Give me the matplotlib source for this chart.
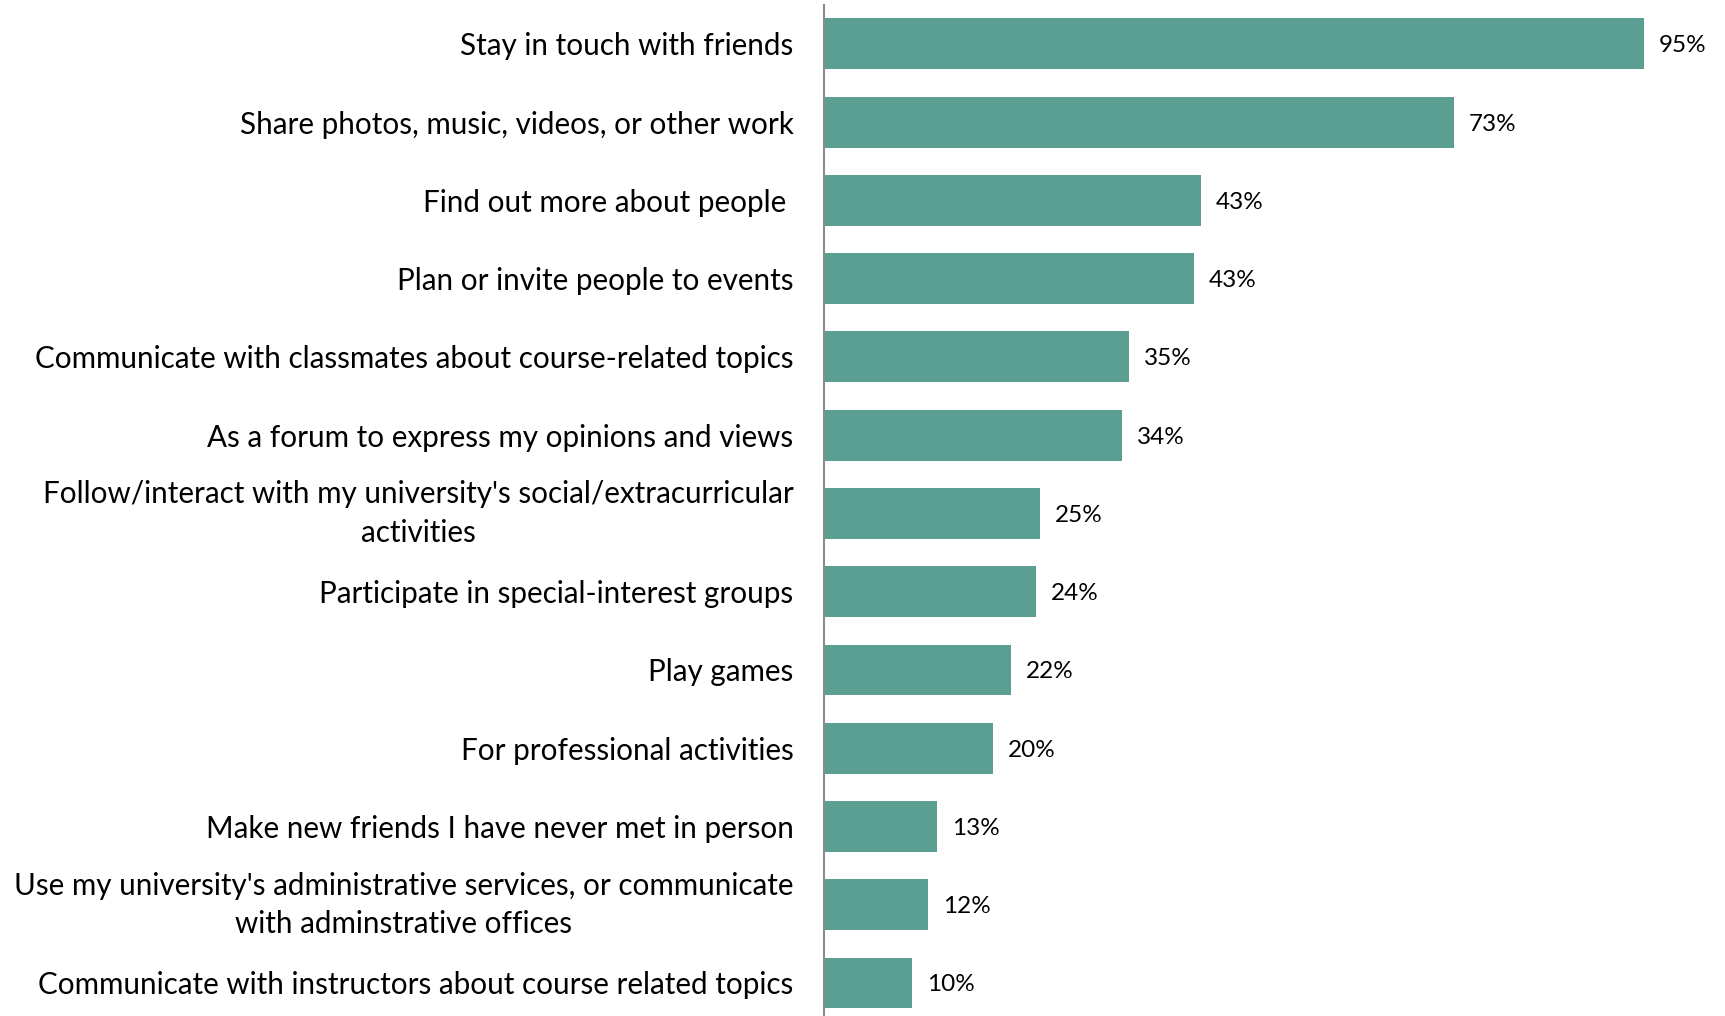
import matplotlib.pyplot as plt

categories = [
    "Stay in touch with friends",
    "Share photos, music, videos, or other work",
    "Find out more about people ",
    "Plan or invite people to events",
    "Communicate with classmates about course-related topics",
    "As a forum to express my opinions and views",
    "Follow/interact with my university's social/extracurricular\nactivities",
    "Participate in special-interest groups",
    "Play games",
    "For professional activities",
    "Make new friends I have never met in person",
    "Use my university's administrative services, or communicate\nwith adminstrative offices",
    "Communicate with instructors about course related topics",
]
values = [94.7, 72.7, 43.5, 42.7, 35.2, 34.4, 24.9, 24.5, 21.6, 19.5, 13.1, 12.0, 10.2]
value_labels = ["95%", "73%", "43%", "43%", "35%", "34%", "25%", "24%", "22%", "20%", "13%", "12%", "10%"]

plt.rcParams['font.family'] = ['Lato', 'DejaVu Sans']

fig = plt.figure(figsize=(17.25, 10.16), dpi=100)
ax = fig.add_axes([0.4777, -0.006, 0.502, 1.0013])

y = list(range(len(categories)))
ax.barh(y, values, height=0.65, color="#5b9f93")
ax.set_ylim(len(categories) - 0.5, -0.5)
ax.set_xlim(0, 100)

for yi, v, lab in zip(y, values, value_labels):
    ax.text(v + 1.7, yi, lab, va="center_baseline", ha="left", fontsize=17.5, color="black")

ax.set_yticks(y)
ax.set_yticklabels(categories, fontsize=21.3, multialignment="center", linespacing=1.45)
for t in ax.get_yticklabels():
    if "\n" in t.get_text():
        t.set_va("center")
ax.tick_params(axis="y", length=0, pad=22)
ax.set_xticks([])
for s in ["top", "right", "bottom"]:
    ax.spines[s].set_visible(False)
ax.spines["left"].set_color("#8c8c8c")
ax.spines["left"].set_linewidth(1.5)

fig.savefig("out.png", dpi=100)
